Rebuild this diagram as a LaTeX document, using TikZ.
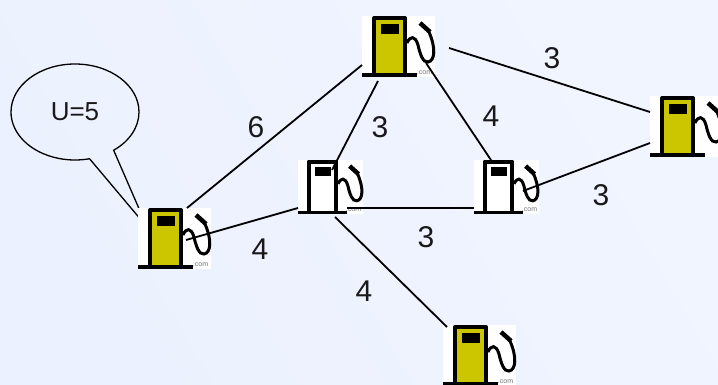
\documentclass[tikz,border=0pt]{standalone}
\usepackage{fontspec}
\setmainfont{Liberation Sans}
\usetikzlibrary{shapes.callouts}
\definecolor{bgtop}{HTML}{EBF1FE}
\definecolor{bgbot}{HTML}{F1F5FF}
\definecolor{pumpyellow}{HTML}{CCC600}
\tikzset{
  pumpbox/.style={draw=none, fill=white, inner sep=0pt, minimum width=73pt, minimum height=61pt},
  smallbox/.style={pumpbox, minimum width=65pt, minimum height=54pt},
  link/.style={draw=black, line width=1.8pt},
  weight/.style={font=\fontsize{30}{30}\selectfont, text=black!90},
  mark text/.style={text=black!55, font=\fontsize{7}{7}\selectfont, inner sep=0pt},
  pump/.pic={
    \begin{scope}[shift={(-36.5,-30.5)}]
      % body
      \draw[line width=4pt, fill=#1, line join=round] (12,59) -- (12,2) -- (43,2) -- (43,59);
      \fill[black] (19,8) rectangle (37,18);
      % base
      \draw[line width=3.2pt] (0,59) -- (55,59);
      % hose
      \draw[line width=3pt] (45,27) .. controls (48,20) and (53,19) .. (56,29)
        .. controls (58,38) and (61,47) .. (66,46) .. controls (73,45) and (74,32) .. (67,16);
      \draw[line width=4.5pt] (58,7) -- (68,16);
    \end{scope}
  }
}

\begin{document}
\begin{tikzpicture}[x=1pt, y=-1pt]

\clip (0,0) rectangle (718,385);
\shade[left color=bgtop, right color=bgbot, shading angle=120] (0,0) rectangle (718,385);

% --- callout ---
\node[ellipse callout, draw=black, line width=1.3pt, inner sep=0pt,
  minimum width=128pt, minimum height=96pt, callout pointer arc=24,
  callout absolute pointer={(147,227)}, font=\fontsize{26}{26}\selectfont, text=black!90] (bubble) at (75,112) {U=5};

% --- pumps ---
\node[pumpbox] (p1) at (174.5,238.5) {};
\node[pumpbox] (p2) at (398.5,46.5) {};
\node[smallbox] (p3) at (330.5,187) {};
\node[smallbox] (p4) at (506.5,187) {};
\node[pumpbox] (p5) at (686.5,126.5) {};
\node[pumpbox] (p6) at (479.5,355.5) {};

\pic at (p1) {pump=pumpyellow};
\pic at (p2) {pump=pumpyellow};
\pic[scale=0.89] at (p3) {pump=white};
\pic[scale=0.89] at (p4) {pump=white};
\pic at (p5) {pump=pumpyellow};
\pic at (p6) {pump=pumpyellow};

% small marks under the hoses
\node[mark text] (m1) at ([shift={(26,26)}]p1.center) {.com};
\node[mark text] (m2) at ([shift={(26,26)}]p2.center) {.com};
\node[mark text] (m3) at ([shift={(23,23)}]p3.center) {.com};
\node[mark text] (m4) at ([shift={(23,23)}]p4.center) {.com};
\node[mark text] (m6) at ([shift={(26,26)}]p6.center) {.com};

% --- links ---
\draw[link] ([shift={(12.5,-30.5)}]p1.center) -- ([shift={(-36.5,18.5)}]p2.center);
\draw[link] ([shift={(11.5,1.5)}]p1.center) -- ([shift={(-32.5,21)}]p3.center);
\draw[link] ([shift={(-20.5,34.5)}]p2.center) -- ([shift={(1.5,-17)}]p3.center);
\draw[link] ([shift={(27.5,16.5)}]p2.center) -- ([shift={(-15.5,-27)}]p4.center);
\draw[link] ([shift={(50.5,1.5)}]p2.center) -- ([shift={(-36.5,-14.5)}]p5.center);
\draw[link] ([shift={(16.5,21)}]p3.center) -- ([shift={(-32.5,21)}]p4.center);
\draw[link] ([shift={(16.5,4)}]p4.center) -- ([shift={(-36.5,16.5)}]p5.center);
\draw[link] ([shift={(4.5,30)}]p3.center) -- ([shift={(-32.5,-28.5)}]p6.center);

% --- weights ---
\node[weight] (w12) at (256,127) {6};
\node[weight] (w13) at (260,249) {4};
\node[weight] (w23) at (380,127) {3};
\node[weight] (w24) at (491,116) {4};
\node[weight] (w25) at (552,58) {3};
\node[weight] (w45) at (601,195) {3};
\node[weight] (w34) at (426,237) {3};
\node[weight] (w36) at (364,291) {4};

\end{tikzpicture}
\end{document}
